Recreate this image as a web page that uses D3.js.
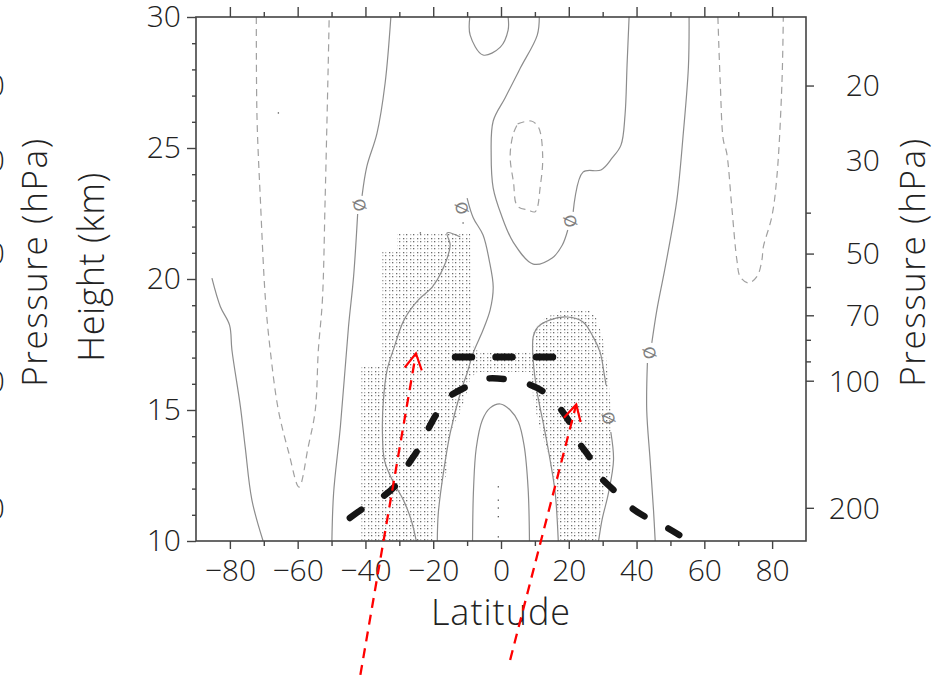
<!DOCTYPE html>
<html>
<head>
<meta charset="utf-8">
<script src="https://cdn.jsdelivr.net/npm/d3@7"></script>
<style>
  html, body { margin: 0; padding: 0; background: #fff; }
  svg { display: block; }
</style>
</head>
<body>
<svg id="chart" width="946" height="677"></svg>
<script>
// ---------------- data (latitude in degrees, height in km) ----------------
const latMajorTicks = [-80, -60, -40, -20, 0, 20, 40, 60, 80];
const latMinorTicks = [-70, -50, -30, -10, 10, 30, 50, 70];
const heightMajorTicks = [10, 15, 20, 25, 30];
const heightMinorTicks = [11, 12, 13, 14, 16, 17, 18, 19, 21, 22, 23, 24, 26, 27, 28, 29];
const pressureMajorTicks = [20, 50, 70, 100, 200];
const pressureMinorTicks = [40, 60, 80, 90];
const pressureLabels = [20, 30, 50, 70, 100, 200];
const neighbourPressureLabels = [20, 30, 50, 100, 200];

// solid (zero) contours
const zeroFarSouth = [[-85.3,20.03],[-82.8,18.94],[-80.1,18.24],[-79.4,17.29],[-76.9,15.13],[-75.5,13.60],[-73.5,11.56],[-70.2,10.0]];
const zeroSouthUpper = [[-32.5,30.0],[-34.2,27.47],[-36.6,25.56],[-39.6,24.29],[-41.0,23.17]];
const zeroSouthLower = [[-42.3,22.48],[-43.5,20.09],[-45.0,18.18],[-47.4,14.36],[-49.4,11.82],[-49.9,10.0]];
const zeroSubtropicSouth = [[-12.0,21.60],[-15.9,21.76],[-15.0,21.30],[-17.3,20.34],[-20.3,19.69],[-24.4,19.20],[-28.6,18.44],[-31.5,17.40],[-33.6,16.53],[-34.7,15.38],[-35.0,14.24],[-34.4,13.09],[-32.1,12.33],[-28.8,11.56],[-26.5,10.80],[-25.0,10.0]];
const zeroTropicsWest = [[-10.0,23.09],[-8.2,22.34],[-5.3,21.68],[-3.5,20.73],[-2.3,19.69],[-3.2,18.82],[-5.3,18.05],[-8.2,17.18],[-10.0,16.41],[-12.0,15.65],[-15.0,14.12],[-17.0,12.60],[-18.5,11.07],[-18.8,10.0]];
const zeroTopCap = [[-9.2,30.0],[-9.1,29.31],[-5.3,28.55],[-0.2,28.85],[2.1,29.50],[2.1,30.0]];
const zeroTongueWest = [[11.3,30.0],[10.7,29.31],[5.7,28.05],[1.2,26.91],[-2.3,26.03],[-2.9,24.73],[-2.3,23.47],[0.1,22.44],[3.6,21.41],[9.5,20.57],[15.1,20.80],[18.1,21.30],[19.7,21.87]];
const zeroTongueEast = [[21.3,22.56],[24.2,24.08],[29.5,24.16],[32.8,24.62],[35.4,25.11],[36.6,26.26],[37.2,28.17],[37.8,30.0]];
const zeroNorthUpper = [[55.5,30.0],[55.3,28.09],[53.8,25.57],[51.9,23.02],[49.4,21.11],[47.9,20.08],[46.0,18.82],[44.5,17.56]];
const zeroNorthLower = [[43.2,16.79],[43.0,15.0],[44.0,13.09],[45.0,11.18],[45.5,10.0]];
const zeroEquatorArch = [[-8.4,10.0],[-8.1,12.0],[-7.3,13.55],[-5.5,14.62],[-3.2,15.08],[-0.2,15.23],[2.7,15.0],[5.1,14.55],[6.8,13.66],[8.0,12.0],[8.4,10.0]];
const zeroNorthLobeWest = [[16.9,10.0],[16.0,11.83],[14.5,13.09],[12.7,14.35],[10.7,15.65],[9.5,16.91],[9.5,17.79],[10.9,18.17],[14.5,18.44],[19.5,18.55],[24.2,18.36],[27.2,17.79],[29.3,17.18],[30.4,16.41],[31.0,15.95]];
const zeroNorthLobeEast = [[32.4,14.16],[33.2,13.09],[31.7,11.83],[29.8,10.80],[28.8,10.0]];

// dashed (negative) contours
const negSouth = [[-72.2,30.0],[-72.0,26.18],[-71.0,23.02],[-69.5,19.20],[-68.1,17.29],[-65.7,15.00],[-62.6,13.36],[-59.6,12.06],[-56.9,13.59],[-54.8,15.00],[-53.9,17.29],[-52.7,19.20],[-51.9,23.02],[-51.0,28.09],[-50.7,30.0]];
const negCell = [[4.9,25.92],[8.9,26.03],[11.1,25.78],[12.3,24.69],[11.6,23.55],[10.1,22.57],[8.0,22.63],[4.8,22.79],[3.7,23.68],[2.7,24.69],[3.6,25.53],[4.9,25.92]];
const negNorth = [[64.0,30.0],[64.7,27.48],[65.6,25.31],[66.6,24.81],[68.1,22.75],[69.6,20.73],[70.6,20.08],[73.0,19.85],[75.6,20.11],[77.0,20.73],[77.4,21.22],[79.9,22.37],[81.4,23.89],[82.9,27.48],[83.3,30.0]];

// contour labels (value 0)
const zeroLabelPoints = [[-41.8,22.82],[-11.6,22.71],[20.4,22.21],[43.8,17.18],[31.7,14.69]];

// stippled (significant) areas
const stippleSouth = [[-30.6,21.72],[-9.1,21.72],[-8.8,17.48],[-6.7,17.29],[-6.7,16.45],[-9.1,16.22],[-10.3,15.57],[-12.0,14.92],[-14.4,14.31],[-15.9,13.66],[-15.6,12.71],[-17.9,11.95],[-19.1,11.18],[-20.3,10.0],[-41.2,10.0],[-41.2,16.68],[-35.0,16.68],[-35.0,21.03],[-30.6,21.03]];
const stippleBand = [[-6.7,17.21],[9.5,17.21],[9.5,16.45],[-6.7,16.45]];
const stippleNorth = [[17.5,18.78],[26.3,18.78],[28.1,18.51],[29.3,18.05],[30.5,17.48],[31.1,16.91],[31.7,16.15],[32.2,15.38],[32.8,14.24],[32.8,13.09],[31.7,12.33],[30.1,11.56],[29.3,10.80],[28.7,10.0],[17.5,10.0],[16.6,11.18],[15.4,12.33],[13.6,13.47],[11.6,14.24],[9.5,15.38],[8.9,16.45],[9.5,18.05],[13.0,18.51]];
const stippleSpecks = [[-65.7,26.34],[-23.8,21.76],[-11.2,22.14],[-0.8,12.07],[-0.8,11.56],[-0.8,11.26],[-0.8,10.93],[-0.8,10.16]];

// tropopause (thick dashed) and cold-point level
const tropopause = [[-44.6,10.88],[-40.6,11.25],[-35.1,11.67],[-30.7,12.18],[-27.8,12.84],[-24.6,13.47],[-21.9,14.17],[-18.9,14.87],[-15.2,15.51],[-10.1,15.89],[-5.0,16.18],[1.2,16.18],[7.4,16.02],[12.5,15.70],[17.0,15.13],[20.4,14.49],[22.9,13.79],[26.3,13.16],[29.3,12.45],[33.2,11.95],[38.1,11.31],[42.5,10.93],[48.4,10.55],[52.6,10.23]];
const coldPoint = [[-13.5,17.02],[15.5,17.02]];

// ascent arrows (tail, tip)
const arrowTails = [[-41.5,4.89],[2.7,5.46]];
const arrowTips = [[-25.1,17.16],[22.2,15.21]];

// ---------------- layout ----------------
const M = { left: 196, right: 806, top: 17, bottom: 541 };
const SCALE_HEIGHT = 7; // km, for the pressure axis
const FONT = "'Open Sans', 'DejaVu Sans', sans-serif";
const INK = '#222';
const WEIGHT = 300;

const x = d3.scaleLinear().domain([-90, 90]).range([M.left, M.right]);
const y = d3.scaleLinear().domain([10, 30]).range([M.bottom, M.top]);
const yp = d3.scaleLog()
  .domain([1000 * Math.exp(-10 / SCALE_HEIGHT), 1000 * Math.exp(-30 / SCALE_HEIGHT)])
  .range([M.bottom, M.top]);

const svg = d3.select('#chart');
const defs = svg.append('defs');

defs.append('clipPath').attr('id', 'plotClip')
  .append('rect')
  .attr('x', M.left).attr('y', M.top)
  .attr('width', M.right - M.left).attr('height', M.bottom - M.top);

// dot-grid stipple
const pat = defs.append('pattern')
  .attr('id', 'stipple')
  .attr('patternUnits', 'userSpaceOnUse')
  .attr('x', M.left).attr('y', M.top)
  .attr('width', 7).attr('height', 7);
[[0, 0, '#6a6a6a'], [4, 4, '#6a6a6a'], [4, 0, '#b4b4b4'], [0, 4, '#b4b4b4']].forEach(([px, py, c]) => {
  pat.append('rect').attr('x', px).attr('y', py).attr('width', 1.3).attr('height', 1.3).attr('fill', c);
});

const plot = svg.append('g').attr('clip-path', 'url(#plotClip)');

// stippled areas
const area = d3.line().x(d => x(d[0])).y(d => y(d[1])).curve(d3.curveLinearClosed);
plot.selectAll('path.stip')
  .data([stippleSouth, stippleBand, stippleNorth])
  .join('path')
  .attr('class', 'stip')
  .attr('d', area)
  .attr('fill', 'url(#stipple)');

plot.selectAll('rect.speck')
  .data(stippleSpecks)
  .join('rect')
  .attr('class', 'speck')
  .attr('x', d => x(d[0]) - 0.6).attr('y', d => y(d[1]) - 0.6)
  .attr('width', 1.3).attr('height', 1.3)
  .attr('fill', '#555');

// contours
const contourLine = d3.line().x(d => x(d[0])).y(d => y(d[1])).curve(d3.curveCatmullRom.alpha(0.5));
const solidContours = [zeroFarSouth, zeroSouthUpper, zeroSouthLower, zeroSubtropicSouth, zeroTropicsWest,
  zeroTopCap, zeroTongueWest, zeroTongueEast, zeroNorthUpper, zeroNorthLower, zeroEquatorArch,
  zeroNorthLobeWest, zeroNorthLobeEast];
const dashedContours = [negSouth, negCell, negNorth];

plot.selectAll('path.solid')
  .data(solidContours)
  .join('path')
  .attr('class', 'solid')
  .attr('d', contourLine)
  .attr('fill', 'none')
  .attr('stroke', '#8c8c8c')
  .attr('stroke-width', 1.2);

plot.selectAll('path.dashed')
  .data(dashedContours)
  .join('path')
  .attr('class', 'dashed')
  .attr('d', contourLine)
  .attr('fill', 'none')
  .attr('stroke', '#a0a0a0')
  .attr('stroke-width', 1.2)
  .attr('stroke-dasharray', '7,5');

plot.selectAll('text.clab')
  .data(zeroLabelPoints)
  .join('text')
  .attr('class', 'clab')
  .attr('transform', d => `translate(${x(d[0])},${y(d[1])}) rotate(75)`)
  .attr('text-anchor', 'middle')
  .attr('dy', '0.36em')
  .attr('font-family', "'DejaVu Sans', sans-serif")
  .attr('font-size', 16)
  .attr('fill', '#808080')
  .text('Ø');

// tropopause and cold point
const smooth = d3.line().x(d => x(d[0])).y(d => y(d[1])).curve(d3.curveCatmullRom.alpha(0.5));
plot.append('path')
  .attr('d', smooth(tropopause))
  .attr('fill', 'none')
  .attr('stroke', '#151515')
  .attr('stroke-width', 6.5)
  .attr('stroke-linecap', 'round')
  .attr('stroke-dasharray', '14,27');

plot.append('path')
  .attr('d', smooth(coldPoint))
  .attr('fill', 'none')
  .attr('stroke', '#151515')
  .attr('stroke-width', 7)
  .attr('stroke-linecap', 'round')
  .attr('stroke-dasharray', '16.5,24');

// ---------------- axes ----------------
function styleAxis(g) {
  g.attr('color', '#444');
  g.selectAll('.tick line').attr('stroke-width', 1.4);
  g.select('.domain').remove();
  g.selectAll('text').attr('font-family', FONT).attr('font-weight', WEIGHT).attr('font-size', 30).attr('fill', INK);
}

svg.append('g').attr('transform', `translate(${M.left},0)`)
  .call(d3.axisLeft(y).tickValues(heightMajorTicks).tickSize(9).tickPadding(6).tickFormat(d3.format('d')))
  .call(styleAxis);
svg.append('g').attr('transform', `translate(${M.left},0)`)
  .call(d3.axisLeft(y).tickValues(heightMinorTicks).tickSize(4).tickFormat(''))
  .call(styleAxis);

const fmtLat = d => (d < 0 ? '\u2212' + Math.abs(d) : String(d));
svg.append('g').attr('transform', `translate(0,${M.bottom})`)
  .call(d3.axisBottom(x).tickValues(latMajorTicks).tickSize(8).tickPadding(11).tickFormat(fmtLat))
  .call(styleAxis);
svg.append('g').attr('transform', `translate(0,${M.bottom})`)
  .call(d3.axisBottom(x).tickValues(latMinorTicks).tickSize(5).tickFormat(''))
  .call(styleAxis);

svg.append('g').attr('transform', `translate(0,${M.top})`)
  .call(d3.axisTop(x).tickValues(latMajorTicks).tickSize(10).tickFormat(''))
  .call(styleAxis);
svg.append('g').attr('transform', `translate(0,${M.top})`)
  .call(d3.axisTop(x).tickValues(latMinorTicks).tickSize(5).tickFormat(''))
  .call(styleAxis);

svg.append('g').attr('transform', `translate(${M.right},0)`)
  .call(d3.axisRight(yp).tickValues(pressureMajorTicks).tickSize(8).tickFormat(''))
  .call(styleAxis);
svg.append('g').attr('transform', `translate(${M.right},0)`)
  .call(d3.axisRight(yp).tickValues(pressureMinorTicks).tickSize(5).tickFormat(''))
  .call(styleAxis);

svg.append('g').selectAll('text')
  .data(pressureLabels)
  .join('text')
  .attr('x', 880)
  .attr('y', d => yp(d))
  .attr('dy', '0.36em')
  .attr('text-anchor', 'end')
  .attr('font-family', FONT).attr('font-weight', WEIGHT).attr('font-size', 30).attr('fill', INK)
  .text(d => d);

// neighbouring panel's pressure labels, cut by the page edge
svg.append('g').selectAll('text')
  .data(neighbourPressureLabels)
  .join('text')
  .attr('x', 5)
  .attr('y', d => yp(d))
  .attr('dy', '0.36em')
  .attr('text-anchor', 'end')
  .attr('font-family', FONT).attr('font-weight', WEIGHT).attr('font-size', 30).attr('fill', INK)
  .text(d => d);

// plot frame
svg.append('rect')
  .attr('x', M.left).attr('y', M.top)
  .attr('width', M.right - M.left).attr('height', M.bottom - M.top)
  .attr('fill', 'none')
  .attr('stroke', '#444')
  .attr('stroke-width', 1.6);

// axis titles
svg.append('text')
  .attr('x', (M.left + M.right) / 2).attr('y', 625)
  .attr('text-anchor', 'middle')
  .attr('font-family', FONT).attr('font-weight', WEIGHT).attr('font-size', 36).attr('letter-spacing', 1).attr('fill', INK)
  .text('Latitude');

svg.append('text')
  .attr('transform', 'translate(104,267) rotate(-90)')
  .attr('text-anchor', 'middle')
  .attr('font-family', FONT).attr('font-weight', WEIGHT).attr('font-size', 36).attr('letter-spacing', 0.5).attr('fill', INK)
  .text('Height (km)');

svg.append('text')
  .attr('transform', 'translate(47,262) rotate(-90)')
  .attr('text-anchor', 'middle')
  .attr('font-family', FONT).attr('font-weight', WEIGHT).attr('font-size', 35).attr('letter-spacing', 1.6).attr('fill', INK)
  .text('Pressure (hPa)');

svg.append('text')
  .attr('transform', 'translate(925,262) rotate(-90)')
  .attr('text-anchor', 'middle')
  .attr('font-family', FONT).attr('font-weight', WEIGHT).attr('font-size', 35).attr('letter-spacing', 1.6).attr('fill', INK)
  .text('Pressure (hPa)');

// ascent arrows
const arrows = arrowTails.map((t, i) => ({ tail: t, tip: arrowTips[i] }));
const ag = svg.append('g').attr('stroke', '#ff0000').attr('fill', 'none');
arrows.forEach(a => {
  const x0 = x(a.tail[0]), y0 = y(a.tail[1]);
  const x1 = x(a.tip[0]), y1 = y(a.tip[1]);
  ag.append('line')
    .attr('x1', x0).attr('y1', y0).attr('x2', x1).attr('y2', y1)
    .attr('stroke-width', 2.3)
    .attr('stroke-dasharray', '10,7');
  const ang = Math.atan2(y0 - y1, x0 - x1);
  const len = 18, spread = 0.5;
  const head = [
    [x1 + len * Math.cos(ang - spread), y1 + len * Math.sin(ang - spread)],
    [x1, y1],
    [x1 + len * Math.cos(ang + spread), y1 + len * Math.sin(ang + spread)]
  ];
  ag.append('path')
    .attr('d', d3.line()(head))
    .attr('stroke-width', 2.2);
});
</script>
</body>
</html>
